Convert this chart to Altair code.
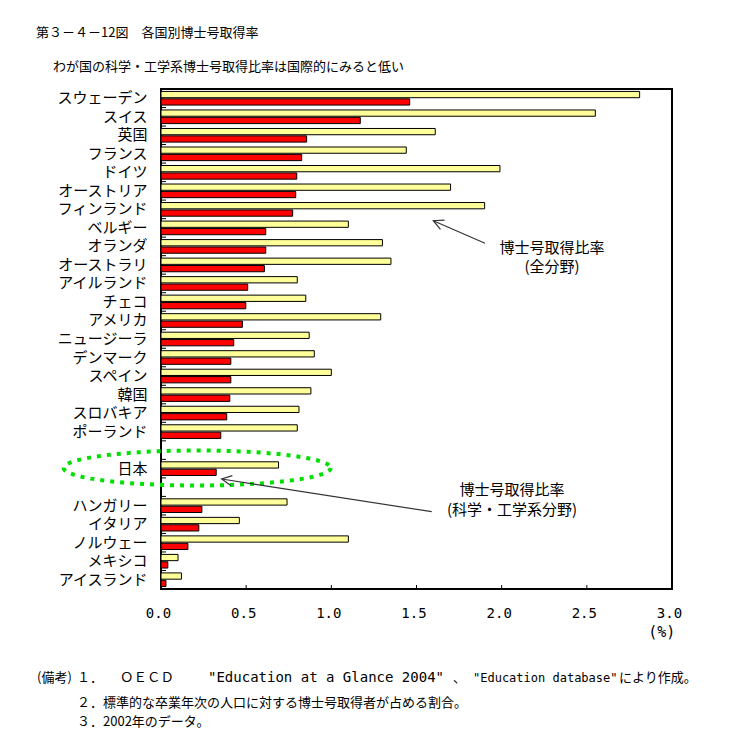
import math
import altair as alt
import pandas as pd

# ---------------- data ----------------
countries = ["スウェーデン", "スイス", "英国", "フランス", "ドイツ", "オーストリア",
             "フィンランド", "ベルギー", "オランダ", "オーストラリ", "アイルランド",
             "チェコ", "アメリカ", "ニュージーラ", "デンマーク", "スペイン", "韓国",
             "スロバキア", "ポーランド", "日本", "ハンガリー", "イタリア", "ノルウェー",
             "メキシコ", "アイスランド"]
total_rate = [2.81, 2.55, 1.61, 1.44, 1.99, 1.70, 1.90, 1.10, 1.30, 1.35, 0.80,
              0.85, 1.29, 0.87, 0.90, 1.00, 0.88, 0.81, 0.80, 0.69, 0.74, 0.46,
              1.10, 0.10, 0.12]
sci_rate = [1.46, 1.17, 0.855, 0.826, 0.797, 0.791, 0.773, 0.615, 0.615, 0.607,
            0.509, 0.498, 0.478, 0.427, 0.41, 0.41, 0.404, 0.386, 0.351, 0.324,
            0.24, 0.222, 0.158, 0.04, 0.029]
series_keys = ["total", "sci"]
series_colors = ["#FFFF99", "#FF0000"]
x_tick_values = [0.0, 0.5, 1.0, 1.5, 2.0, 2.5, 3.0]
inner_x_ticks = [0.5, 1.0, 1.5, 2.0, 2.5]

title_text = "第３－４－12図　各国別博士号取得率"
subtitle_text = "わが国の科学・工学系博士号取得比率は国際的にみると低い"
note_head = "(備考)"
note1_parts = ["１．", "ＯＥＣＤ", '"Education at a Glance 2004"', "、",
               '"Education database"', "により作成。"]
note_lines = ["２．標準的な卒業年次の人口に対する博士号取得者が占める割合。",
              "３．2002年のデータ。"]
ann_total = ["博士号取得比率", "(全分野)"]
ann_sci = ["博士号取得比率", "(科学・工学系分野)"]
unit_text = "(%)"

# row order with blank rows around Japan
order = []
for c in countries:
    order.append(c)
    if c == "ポーランド":
        order.append("_b1")
    if c == "日本":
        order.append("_b2")

rows = []
for c, t, s in zip(countries, total_rate, sci_rate):
    rows.append({"country": c, "series": "total", "value": t})
    rows.append({"country": c, "series": "sci", "value": s})
df = pd.DataFrame(rows)

W, H = 511, 500
JP = "Noto Sans CJK JP"
MONO = "DejaVu Sans Mono"

xscale = alt.Scale(domain=[0, 3], nice=False, zero=True)
yscale = alt.Scale(domain=order, paddingInner=0, paddingOuter=0)
xaxis = alt.Axis(values=x_tick_values, format=".1f", title=None, grid=False,
                 ticks=False, domain=False, labelFont=MONO,
                 labelFontSize=14, labelPadding=24, labelBaseline="middle",
                 labelFlush=False, labelOffset=-3, labelColor="black")
yaxis = alt.Axis(title=None, ticks=False, domain=False, labelFont=JP,
                 labelFontSize=15, labelPadding=14, labelColor="black",
                 labelExpr="indexof(datum.value, '_') == 0 ? '' : datum.value")

bars = alt.Chart(df).mark_bar(stroke="black", strokeWidth=1, opacity=1).encode(
    x=alt.X("value:Q", scale=xscale, axis=xaxis, stack=None),
    y=alt.Y("country:N", scale=yscale, axis=yaxis),
    yOffset=alt.YOffset("series:N", scale=alt.Scale(domain=series_keys,
                                                     paddingInner=0.15,
                                                     paddingOuter=0.33)),
    color=alt.Color("series:N", scale=alt.Scale(domain=series_keys,
                                                range=series_colors), legend=None),
)

ytick_df = pd.DataFrame({"country": order})
yticks = alt.Chart(ytick_df).mark_rule(color="black", strokeWidth=1).encode(
    y=alt.Y("country:N", scale=yscale, axis=yaxis, bandPosition=1),
    x=alt.value(0), x2=alt.value(5),
)

xtick_df = pd.DataFrame({"v": inner_x_ticks})
xticks = alt.Chart(xtick_df).mark_rule(color="black", strokeWidth=1).encode(
    x=alt.X("v:Q", scale=xscale, axis=xaxis),
    y=alt.value(H - 4), y2=alt.value(H),
)

one = pd.DataFrame({"k": [0]})

# dotted ellipse around Japan (annotation shape)
ratio = 17.5 / 133.5
pts = [(math.cos(2 * math.pi * i / 96), ratio * math.sin(2 * math.pi * i / 96))
       for i in range(97)]
ellipse_path = "M" + " L".join(f"{px:.4f},{py:.4f}" for px, py in pts)
ellipse = alt.Chart(one).mark_point(
    shape=ellipse_path, filled=False, stroke="#00E000", strokeWidth=4,
    strokeDash=[4, 6], opacity=1, size=267 ** 2,
).encode(x=alt.value(36.2), y=alt.value(379))


def arrow(x1, y1, x2, y2):
    ang = math.degrees(math.atan2(y2 - y1, x2 - x1)) - 180
    ang = ang % 360
    line = alt.Chart(one).mark_rule(color="#333333", strokeWidth=1.2).encode(
        x=alt.value(x1), y=alt.value(y1), x2=alt.value(x2), y2=alt.value(y2))
    head = alt.Chart(one).mark_point(
        shape="M 1 -0.5 L 0 0 L 1 0.5", filled=False, stroke="#333333",
        strokeWidth=1.2, opacity=1, size=400, angle=ang,
    ).encode(x=alt.value(x2), y=alt.value(y2))
    return [line, head]


def text(t, x, y, size, font=JP, align="left"):
    return alt.Chart(one).mark_text(
        text=t, font=font, fontSize=size, align=align, baseline="middle",
        color="black").encode(x=alt.value(x), y=alt.value(y))


layers = [bars, yticks, xticks, ellipse]
layers += arrow(324, 154.3, 272.3, 131.7)
layers += arrow(270.7, 422.7, 60.7, 390)

note1_x = [-84, -41, 47, 292, 312, 458]
note1_font = [JP, JP, MONO, JP, MONO, JP]
note1_size = [13, 13.5, 14, 13, 12, 13]

layers += [
    text(title_text, -125, -56, 13),
    text(subtitle_text, -108, -22, 13),
    text(ann_total[0], 391, 158.5, 15, align="center"),
    text(ann_total[1], 391, 177.5, 15, align="center"),
    text(ann_sci[0], 351, 401, 15, align="center"),
    text(ann_sci[1], 351, 421, 15, align="center"),
    text(unit_text, 500.7, 543, 15, font=MONO, align="center"),
    text(note_head, -124, 589, 13),
    text(note_lines[0], -84, 614, 13),
    text(note_lines[1], -84, 633, 13),
]
for part, px, f, s in zip(note1_parts, note1_x, note1_font, note1_size):
    layers.append(text(part, px, 589, s, font=f))

chart = alt.layer(*layers).properties(
    width=W, height=H,
    autosize=alt.AutoSizeParams(type="none"),
    padding={"left": 153, "top": 81, "right": 50, "bottom": 140},
    background="white",
).configure(font=JP).configure_view(stroke="black", strokeWidth=2)

chart.save("out.html", embed_options={"renderer": "svg", "actions": False})
